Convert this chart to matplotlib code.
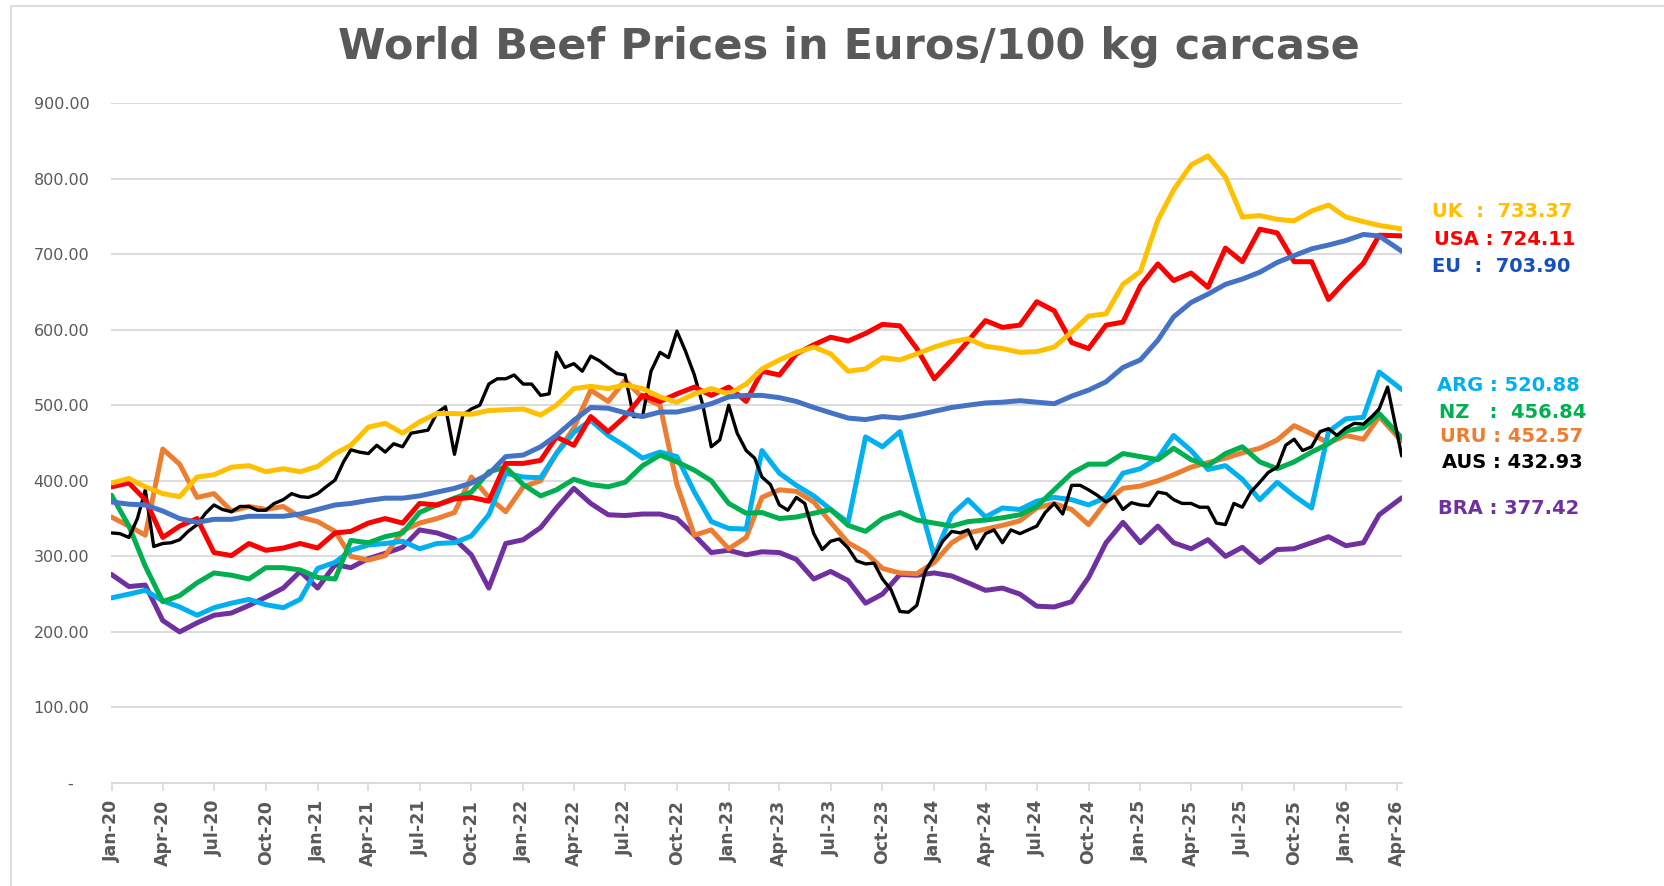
import matplotlib
matplotlib.use("Agg")
import matplotlib.pyplot as plt
import matplotlib.dates as mdates
from matplotlib.lines import Line2D
import pandas as pd

# monthly readings Jan-2020 .. Mar-2026, last value = latest weekly quote
MONTHS = list(pd.date_range("2020-01-01", periods=75, freq="MS"))
LAST = pd.Timestamp("2026-04-10")
DATES = MONTHS + [LAST]
# AUS is read twice a month (1st and 16th) because it is much noisier
AUS_DATES = [d + pd.Timedelta(days=k * 15) for d in MONTHS for k in (0, 1)] + [LAST]

UK = [397, 403, 392, 383, 379, 405, 408, 418, 420, 412,
      416, 412, 419, 436, 447, 471, 476, 463, 478, 489,
      489, 488, 493, 494, 495, 487, 500, 522, 525, 522,
      527, 522, 511, 504, 515, 522, 515, 528, 548, 560,
      570, 577, 568, 545, 548, 563, 560, 568, 577, 584,
      588, 578, 575, 570, 571, 577, 597, 618, 621, 660,
      677, 745, 785, 818, 830, 802, 749, 751, 746, 744,
      757, 765, 749, 743, 738, 733.37]
USA = [392, 397, 375, 325, 340, 350, 305, 301, 317, 308,
       311, 317, 311, 331, 333, 344, 350, 344, 370, 368,
       376, 378, 373, 423, 423, 427, 458, 447, 485, 465,
       485, 513, 505, 515, 524, 513, 524, 505, 545, 540,
       568, 580, 590, 585, 595, 607, 605, 575, 535, 560,
       585, 612, 603, 606, 637, 625, 583, 575, 606, 610,
       658, 687, 665, 675, 656, 708, 690, 733, 728, 690,
       690, 640, 665, 688, 725, 724.11]
EU = [372, 369, 368, 360, 350, 345, 349, 349, 353, 353,
      353, 356, 362, 368, 370, 374, 377, 377, 380, 385,
      390, 397, 409, 432, 434, 445, 460, 480, 497, 496,
      490, 485, 491, 491, 496, 502, 511, 513, 513, 510,
      505, 497, 490, 483, 481, 485, 483, 487, 492, 497,
      500, 503, 504, 506, 504, 502, 512, 520, 531, 550,
      560, 586, 617, 636, 647, 660, 667, 676, 689, 698,
      707, 712, 718, 726, 724, 703.90]
ARG = [245, 250, 255, 241, 233, 222, 232, 238, 243, 236,
       232, 243, 284, 292, 308, 315, 317, 320, 310, 317,
       318, 327, 355, 410, 405, 404, 436, 464, 480, 460,
       446, 430, 438, 432, 385, 346, 337, 336, 440, 410,
       394, 380, 362, 345, 458, 445, 465, 383, 300, 355,
       375, 352, 364, 362, 373, 378, 375, 368, 378, 410,
       416, 430, 460, 440, 415, 420, 402, 375, 398, 380,
       364, 465, 482, 484, 544, 520.88]
NZ = [381, 340, 287, 240, 248, 265, 278, 275, 270, 285,
      285, 282, 272, 270, 321, 318, 326, 331, 358, 368,
      377, 385, 412, 418, 395, 380, 388, 402, 395, 392,
      398, 420, 434, 425, 414, 400, 370, 357, 358, 350,
      352, 357, 362, 341, 333, 350, 358, 348, 344, 340,
      346, 348, 351, 355, 366, 388, 410, 422, 422, 436,
      432, 428, 443, 428, 420, 436, 445, 425, 416, 425,
      438, 449, 466, 470, 489, 456.84]
URU = [352, 340, 328, 442, 422, 378, 383, 360, 366, 362,
       366, 352, 346, 333, 300, 295, 301, 334, 344, 350,
       358, 405, 378, 359, 392, 400, 436, 470, 520, 505,
       533, 510, 500, 395, 328, 335, 310, 325, 378, 388,
       386, 372, 345, 318, 305, 284, 278, 277, 292, 318,
       331, 336, 341, 347, 364, 370, 362, 342, 372, 390,
       393, 400, 408, 418, 424, 430, 437, 443, 454, 473,
       462, 450, 460, 455, 485, 452.57]
AUS = [331, 330, 325, 350, 388, 313, 317, 318, 322, 333,
       342, 357, 368, 362, 359, 366, 366, 361, 361, 370,
       375, 383, 379, 378, 383, 392, 401, 425, 441, 438,
       436, 447, 438, 449, 445, 463, 465, 467, 490, 498,
       435, 487, 495, 500, 528, 535, 535, 540, 528, 528,
       513, 515, 570, 550, 555, 545, 565, 559, 550, 542,
       540, 485, 485, 545, 570, 563, 598, 572, 540, 500,
       445, 454, 500, 463, 440, 430, 405, 395, 368, 361,
       378, 370, 330, 309, 320, 323, 311, 294, 290, 291,
       270, 256, 227, 226, 235, 280, 300, 320, 333, 331,
       335, 310, 330, 335, 318, 335, 330, 335, 340, 358,
       370, 356, 394, 394, 388, 381, 372, 379, 362, 371,
       368, 367, 385, 383, 375, 370, 370, 365, 365, 344,
       342, 370, 365, 385, 398, 411, 418, 447, 455, 440,
       445, 465, 469, 460, 470, 476, 475, 485, 495, 524,
       432.93]
BRA = [276, 260, 262, 215, 200, 212, 222, 225, 235, 246,
       258, 280, 258, 289, 285, 297, 304, 312, 335, 331,
       323, 302, 258, 317, 322, 338, 364, 390, 370, 355,
       354, 356, 356, 350, 328, 305, 308, 302, 306, 305,
       296, 270, 280, 268, 238, 250, 276, 275, 278, 274,
       265, 255, 258, 250, 234, 233, 240, 272, 318, 345,
       318, 340, 318, 310, 322, 300, 312, 292, 309, 310,
       318, 326, 314, 318, 355, 377.42]

# drawing order: first is at the bottom
SERIES = [("BRA", DATES, BRA, "#7030A0", 3.6),
          ("URU", DATES, URU, "#ED7D31", 3.6),
          ("ARG", DATES, ARG, "#00B0F0", 3.6),
          ("NZ", DATES, NZ, "#00B050", 3.6),
          ("AUS", AUS_DATES, AUS, "#000000", 2.4),
          ("USA", DATES, USA, "#FF0000", 3.6),
          ("UK", DATES, UK, "#FFC000", 3.6),
          ("EU", DATES, EU, "#4472C4", 3.6)]

# end-of-series labels: (text prefix, value, colour, x px, baseline y px)
END_LABELS = [("UK  :  ", UK[-1], "#FFC000", 1432, 217),
              ("USA : ", USA[-1], "#FF0000", 1434, 245),
              ("EU  :  ", EU[-1], "#1550C0", 1432, 272),
              ("ARG : ", ARG[-1], "#00B0F0", 1437, 391),
              ("NZ   :  ", NZ[-1], "#00B050", 1439, 418),
              ("URU : ", URU[-1], "#ED7D31", 1440, 442),
              ("AUS : ", AUS[-1], "#000000", 1442, 468),
              ("BRA : ", BRA[-1], "#7030A0", 1438, 514)]

W, H = 1665, 886
GREY = "#595959"
GRID = "#D9D9D9"

fig = plt.figure(figsize=(W / 100, H / 100), dpi=100)
ax = fig.add_axes([111.5 / W, 1 - 783 / H, (1401.7 - 111.5) / W, (783 - 103) / H])

for name, x, vals, color, lw in SERIES:
    ax.plot(x, vals, color=color, lw=lw, solid_joinstyle="round",
            solid_capstyle="round", label=name)

ax.set_ylim(0, 900)
ax.set_xlim(pd.Timestamp("2020-01-01"), LAST)
ax.set_yticks(range(0, 901, 100))
ax.set_yticklabels(["-   "] + [f"{v:.2f}" for v in range(100, 901, 100)])
ax.xaxis.set_major_locator(mdates.MonthLocator(bymonth=[1, 4, 7, 10]))
ax.xaxis.set_major_formatter(mdates.DateFormatter("%b-%y"))

ax.yaxis.grid(True, color=GRID, lw=1.3)
ax.set_axisbelow(True)
for side in ("left", "right", "top"):
    ax.spines[side].set_visible(False)
ax.spines["bottom"].set_color(GRID)
ax.spines["bottom"].set_linewidth(1.3)

ax.tick_params(axis="y", length=0, pad=16, labelsize=11.5, labelcolor=GREY)
ax.tick_params(axis="x", direction="out", length=6, width=1.2, color=GRID,
               pad=6, labelsize=12.5, labelcolor=GREY)
for lab in ax.get_xticklabels():
    lab.set_rotation(90)
    lab.set_fontweight("bold")

fig.text(849 / W, 1 - 59 / H, "World Beef Prices in Euros/100 kg carcase",
         ha="center", va="baseline", fontsize=31, fontweight="bold",
         color=GREY)

for prefix, val, color, x, y in END_LABELS:
    fig.text(x / W, 1 - y / H, f"{prefix}{val:.2f}", ha="left",
             va="baseline", fontsize=14, fontweight="bold", color=color)

# chart-area frame (only left and top edges are inside the picture)
fig.add_artist(Line2D([11 / W, 11 / W, 1.0], [0.0, 1 - 6 / H, 1 - 6 / H],
                      transform=fig.transFigure, color=GRID, lw=1.3))

fig.savefig("out.png", dpi=100)
